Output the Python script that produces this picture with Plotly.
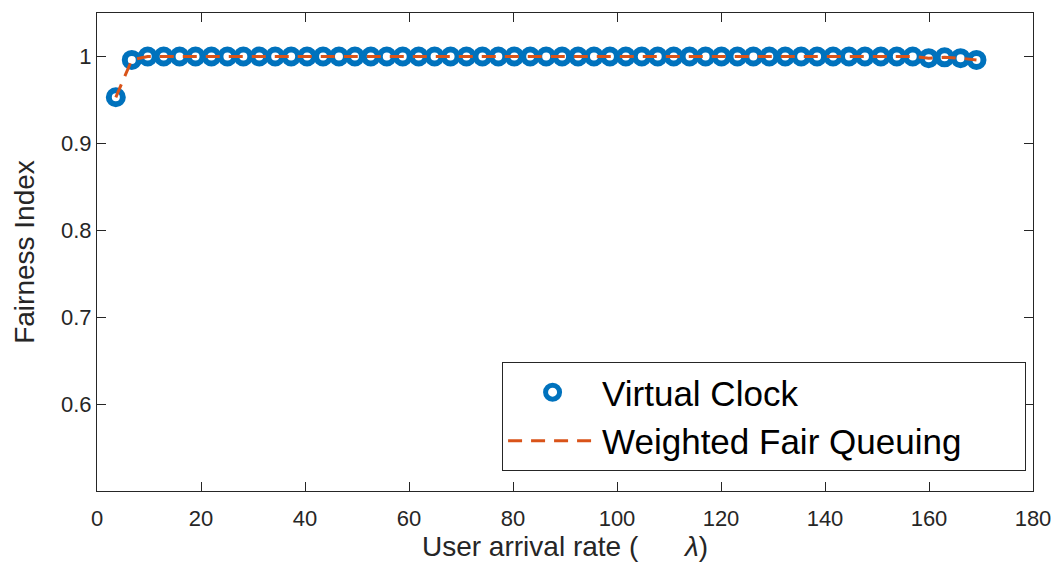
import plotly.graph_objects as go

arrival_rate = [3.62, 6.69, 9.75, 12.82, 15.88, 18.95, 22.01, 25.08, 28.14, 31.21,
                34.27, 37.34, 40.40, 43.47, 46.53, 49.60, 52.66, 55.73, 58.79, 61.86,
                64.92, 67.99, 71.05, 74.12, 77.18, 80.25, 83.31, 86.38, 89.44, 92.51,
                95.57, 98.64, 101.70, 104.77, 107.83, 110.90, 113.96, 117.03, 120.09, 123.16,
                126.22, 129.29, 132.35, 135.42, 138.48, 141.55, 144.61, 147.68, 150.74, 153.81,
                156.87, 159.94, 163.00, 166.07, 169.13]

virtual_clock = [0.953, 0.996, 1.0, 1.0, 1.0, 1.0, 1.0, 1.0, 1.0, 1.0,
                 1.0, 1.0, 1.0, 1.0, 1.0, 1.0, 1.0, 1.0, 1.0, 1.0,
                 1.0, 1.0, 1.0, 1.0, 1.0, 1.0, 1.0, 1.0, 1.0, 1.0,
                 1.0, 1.0, 1.0, 1.0, 1.0, 1.0, 1.0, 1.0, 1.0, 1.0,
                 1.0, 1.0, 1.0, 1.0, 1.0, 1.0, 1.0, 1.0, 1.0, 1.0,
                 1.0, 0.998, 0.999, 0.998, 0.996]

weighted_fair_queuing = [0.953, 0.996, 1.0, 1.0, 1.0, 1.0, 1.0, 1.0, 1.0, 1.0,
                         1.0, 1.0, 1.0, 1.0, 1.0, 1.0, 1.0, 1.0, 1.0, 1.0,
                         1.0, 1.0, 1.0, 1.0, 1.0, 1.0, 1.0, 1.0, 1.0, 1.0,
                         1.0, 1.0, 1.0, 1.0, 1.0, 1.0, 1.0, 1.0, 1.0, 1.0,
                         1.0, 1.0, 1.0, 1.0, 1.0, 1.0, 1.0, 1.0, 1.0, 1.0,
                         1.0, 0.998, 0.999, 0.998, 0.996]

x_ticks = [0, 20, 40, 60, 80, 100, 120, 140, 160, 180]
y_ticks = [0.6, 0.7, 0.8, 0.9, 1.0]
y_tick_labels = ["0.6", "0.7", "0.8", "0.9", "1"]

font_family = "Liberation Sans, Arial, sans-serif"
axis_color = "#262626"

fig = go.Figure()
fig.add_trace(go.Scatter(
    x=arrival_rate, y=virtual_clock, mode="markers", name="Virtual Clock",
    marker=dict(symbol="circle-open", size=14, color="#0072BD",
                line=dict(width=6, color="#0072BD")),
))
fig.add_trace(go.Scatter(
    x=arrival_rate, y=weighted_fair_queuing, mode="lines",
    name="Weighted Fair Queuing\u00a0\u00a0\u00a0\u00a0\u00a0\u00a0",
    line=dict(color="#D95319", width=3, dash="14px,9px"),
))

axis_common = dict(
    showline=True, linecolor=axis_color, linewidth=1, mirror="ticks",
    ticks="inside", ticklen=9, tickwidth=1, tickcolor=axis_color,
    showgrid=False, zeroline=False,
    tickfont=dict(family=font_family, size=22, color=axis_color),
)

fig.update_layout(
    width=1063, height=569,
    margin=dict(l=97, r=21, t=13, b=78),
    paper_bgcolor="white", plot_bgcolor="white",
    font=dict(family=font_family, color=axis_color),
    xaxis=dict(range=[0, 180], tickvals=x_ticks, ticklabelstandoff=8,
               title=dict(text="User arrival rate (\u00a0\u00a0\u00a0\u00a0\u00a0\u00a0<i>λ</i>)",
                          font=dict(family=font_family, size=28, color=axis_color),
                          standoff=5),
               **axis_common),
    yaxis=dict(range=[0.5, 1.05], tickvals=y_ticks, ticktext=y_tick_labels,
               title=dict(text="Fairness Index",
                          font=dict(family=font_family, size=28, color=axis_color),
                          standoff=18),
               **axis_common),
    legend=dict(x=0.9926, y=0.042, xanchor="right", yanchor="bottom",
                bgcolor="white", bordercolor=axis_color, borderwidth=1,
                font=dict(family=font_family, size=35, color="black"),
                itemwidth=89, tracegroupgap=0),
    showlegend=True,
)

fig.write_html("out.html")
